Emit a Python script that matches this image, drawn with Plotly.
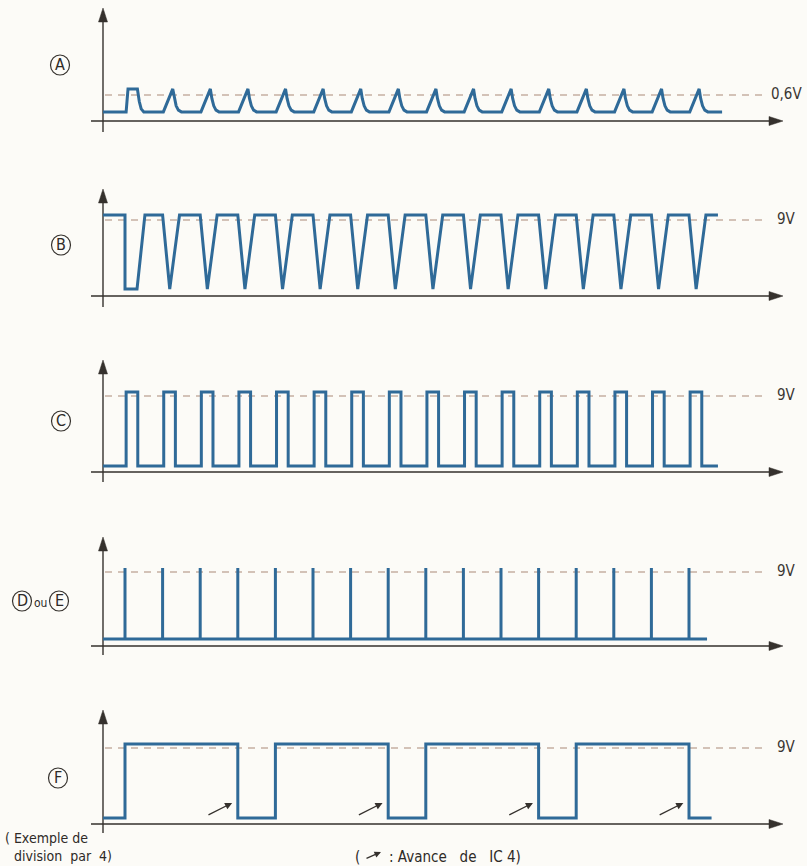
import plotly.graph_objects as go

# ---------------- data (time in input periods, levels in volts) ----------------
pulse_times = [0, 1, 2, 3, 4, 5, 6, 7, 8, 9, 10, 11, 12, 13, 14, 15]
t_start = -0.585

# A : base-emitter voltage pulses (0,6 V reference)
A_low = 0.21
A_first_t = [0.03, 0.08, 0.33, 0.38, 0.43, 0.50]
A_first_v = [0.21, 0.74, 0.74, 0.45, 0.28, 0.21]
A_shape_dt = [0.02, 0.27, 0.31, 0.36, 0.42, 0.50]
A_shape_v = [0.21, 0.74, 0.52, 0.35, 0.25, 0.21]
A_end = 15.88
A_ref = 0.6

# B : collector, sawtooth dips (9 V)
B_high, B_low = 9.6, 0.83
B_first_t = [0.0, 0.0, 0.32, 0.53]
B_first_v = [9.6, 0.83, 0.83, 9.6]
B_shape_dt = [0.0, 0.19, 0.45]
B_shape_v = [9.6, 0.83, 9.6]
B_end = 15.77
B_ref = 9

# C : squared pulses
C_high, C_low = 9.47, 0.71
C_rise_dt = 0.03
C_fall_dt = 0.34
C_end = 15.77
C_ref = 9

# D ou E : needle pulses
D_high, D_low = 9.49, 0.85
D_end = 15.48
D_ref = 9

# F : division by 4
F_t = [t_start, 0, 3, 4, 7, 8, 11, 12, 15, 15.6]
F_v = [0.71, 9.47, 0.71, 9.47, 0.71, 9.47, 0.71, 9.47, 0.71, 0.71]
F_adv_edges = [3, 7, 11, 15]
F_ref = 9

ref_labels = ["0,6V", "9V", "9V", "9V", "9V"]

# ---------------- build waveforms ----------------
Ax, Ay = [t_start], [A_low]
Ax += A_first_t; Ay += A_first_v
for k in pulse_times[1:]:
    Ax += [k + d for d in A_shape_dt]; Ay += A_shape_v
Ax.append(A_end); Ay.append(A_low)

Bx, By = [t_start], [B_high]
Bx += B_first_t; By += B_first_v
for k in pulse_times[1:]:
    Bx += [k + d for d in B_shape_dt]; By += B_shape_v
Bx.append(B_end); By.append(B_high)

Cx, Cy = [t_start], [C_low]
for k in pulse_times:
    Cx += [k + C_rise_dt, k + C_fall_dt]; Cy += [C_high, C_low]
Cx.append(C_end); Cy.append(C_low)

Dx, Dy = [t_start], [D_low]
for k in pulse_times:
    Dx += [k, k, k]; Dy += [D_low, D_high, D_low]
Dx.append(D_end); Dy.append(D_low)

# ---------------- layout geometry (pixels) ----------------
W, H = 807, 866
T0_PX, T_PX = 125.0, 37.6
def tx(px):
    return (px - T0_PX) / T_PX

# per panel: x-axis px, reference line px, arrow tip px, y-axis bottom px, ref value
panels = [
    dict(axis=121, ref=95, tip=8, bot=132, val=A_ref),
    dict(axis=296, ref=220, tip=189, bot=307, val=B_ref),
    dict(axis=472, ref=396, tip=360, bot=482, val=C_ref),
    dict(axis=646, ref=572, tip=537, bot=655, val=D_ref),
    dict(axis=824, ref=748, tip=710, bot=833, val=F_ref),
]

SIG = "#2f6a98"
AX = "#35312d"
DASH = "#a98a78"
FONT = "DejaVu Sans Condensed, Liberation Sans Narrow, DejaVu Sans"

fig = go.Figure()
series = [(Ax, Ay, "linear"), (Bx, By, "linear"), (Cx, Cy, "hv"), (Dx, Dy, "linear"), (F_t, F_v, "hv")]
shapes, annos = [], []
layout = dict(
    width=W, height=H, autosize=False,
    margin=dict(l=0, r=0, t=0, b=0, pad=0),
    paper_bgcolor="#fcfbf7", plot_bgcolor="#fcfbf7",
    showlegend=False,
    xaxis=dict(range=[tx(0), tx(W)], domain=[0, 1], visible=False, fixedrange=True),
)

for i, p in enumerate(panels):
    n = i + 1
    yname = "yaxis" if n == 1 else f"yaxis{n}"
    yref = "y" if n == 1 else f"y{n}"
    s = (p["axis"] - p["ref"]) / p["val"]          # px per volt
    top_px, bot_px = p["tip"] - 4, p["bot"] + 6
    layout[yname] = dict(
        domain=[1 - bot_px / H, 1 - top_px / H],
        range=[-(bot_px - p["axis"]) / s, (p["axis"] - top_px) / s],
        visible=False, fixedrange=True, anchor="x",
    )
    def v(px):
        return (p["axis"] - px) / s
    xs, ys, shp = series[i]
    fig.add_trace(go.Scatter(x=xs, y=ys, mode="lines", xaxis="x", yaxis=yref,
                             line=dict(color=SIG, width=3, shape=shp),
                             hoverinfo="skip"))
    # dashed reference line
    shapes.append(dict(type="line", xref="x", yref=yref, x0=tx(105), x1=tx(767),
                       y0=p["val"], y1=p["val"], layer="below",
                       line=dict(color=DASH, width=1.2, dash="7px,6px")))
    # horizontal axis
    shapes.append(dict(type="line", xref="x", yref=yref, x0=tx(91), x1=tx(772),
                       y0=0, y1=0, layer="below", line=dict(color=AX, width=1.4)))
    shapes.append(dict(type="path", xref="x", yref=yref, xsizemode="pixel", ysizemode="pixel",
                       xanchor=tx(783), yanchor=0, path="M0,0 L-14,-4.5 L-14,4.5 Z",
                       fillcolor=AX, line=dict(color=AX, width=0.5)))
    # vertical axis
    shapes.append(dict(type="line", xref="x", yref=yref, x0=tx(103), x1=tx(103),
                       y0=v(p["bot"]), y1=v(p["tip"] + 10), layer="below",
                       line=dict(color=AX, width=1.4)))
    shapes.append(dict(type="path", xref="x", yref=yref, xsizemode="pixel", ysizemode="pixel",
                       xanchor=tx(103), yanchor=v(p["tip"]), path="M0,0 L-4.5,-14 L4.5,-14 Z",
                       fillcolor=AX, line=dict(color=AX, width=0.5)))
    # reference label
    annos.append(dict(x=786 / W, y=1 - (p["ref"] - 1) / H, xref="paper", yref="paper",
                      text=ref_labels[i], showarrow=False, xanchor="center", yanchor="middle",
                      font=dict(family=FONT, size=15, color="#3a3632")))

# "avance de IC4" arrows on F
for e in F_adv_edges:
    annos.append(dict(x=e - 0.15, y=2.5, xref="x", yref="y5", axref="x", ayref="y5",
                      ax=e - 0.82, ay=1.0, text="", showarrow=True, arrowhead=2,
                      arrowsize=1.1, arrowwidth=1.3, arrowcolor=AX))

# circled panel letters
def circ(cx, cy, letter, size=16):
    shapes.append(dict(type="circle", xref="paper", yref="paper", xsizemode="pixel",
                       ysizemode="pixel", xanchor=cx / W, yanchor=1 - cy / H,
                       x0=-9.5, x1=9.5, y0=-10, y1=10, line=dict(color=AX, width=1.2)))
    annos.append(dict(x=cx / W, y=1 - (cy - 0.5) / H, xref="paper", yref="paper", text=letter,
                      showarrow=False, xanchor="center", yanchor="middle",
                      font=dict(family=FONT, size=size, color="#2e2a27")))

circ(60, 65, "A")
circ(61, 245, "B")
circ(61, 421, "C")
circ(22, 601, "D")
circ(59, 601, "E")
circ(58, 778, "F")
annos.append(dict(x=40 / W, y=1 - 603 / H, xref="paper", yref="paper", text="ou",
                  showarrow=False, xanchor="center", yanchor="middle",
                  font=dict(family=FONT, size=12, color="#2e2a27")))

# footnotes
def txt(x, y, s, size=14):
    annos.append(dict(x=x / W, y=1 - y / H, xref="paper", yref="paper", text=s,
                      showarrow=False, xanchor="left", yanchor="middle",
                      font=dict(family=FONT, size=size, color="#2e2a27")))

txt(3, 838, "(\u00a0Exemple\u00a0de")
txt(12, 856, "division\u00a0\u00a0par\u00a0\u00a04)")
txt(353, 857, "(", 15)
annos.append(dict(x=381 / W, y=1 - 852 / H, xref="paper", yref="paper", ax=-16, ay=7,
                  text="", showarrow=True, arrowhead=2, arrowsize=1.0, arrowwidth=1.3,
                  arrowcolor=AX))
txt(387, 857, ":\u00a0Avance\u00a0\u00a0\u00a0de\u00a0\u00a0\u00a0IC\u00a04)", 15)

layout["shapes"] = shapes
layout["annotations"] = annos
fig.update_layout(**layout)
fig.write_html("out.html", config={"displayModeBar": False},
               post_script="document.body.style.margin='0';document.body.style.overflow='hidden';")
